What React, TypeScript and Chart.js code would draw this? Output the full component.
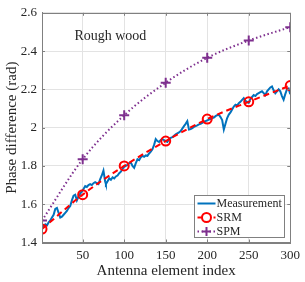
import React, { useEffect, useRef } from "react";
import { Chart, registerables } from "chart.js";

Chart.register(...registerables);

const measX = [1, 3, 5, 7, 9, 11, 13, 15, 17, 19, 21, 23, 25, 27, 29, 31, 33, 35, 37, 39, 41, 43, 45, 47, 49, 51, 53, 55, 57, 59, 61, 63, 65, 67, 69, 71, 73, 75, 77, 78, 80, 82, 84, 86, 88, 90, 92, 94, 96, 98, 100, 102, 104, 106, 108, 110, 112, 114, 116, 118, 120, 122, 124, 126, 128, 130, 132, 134, 136, 138, 140, 142, 144, 146, 148, 150, 152, 154, 156, 158, 160, 162, 164, 166, 168, 170, 172, 174, 176, 178, 180, 182, 184, 186, 188, 190, 192, 194, 196, 198, 200, 202, 204, 206, 208, 210, 212, 214, 216, 218, 220, 222, 224, 226, 228, 230, 232, 234, 236, 238, 240, 242, 244, 246, 248, 250, 252, 254, 256, 258, 260, 262, 264, 266, 268, 270, 272, 274, 276, 278, 280, 282, 284, 286, 288, 290, 292, 294, 296, 298, 300];
const measY = [1.49, 1.485, 1.495, 1.49, 1.505, 1.515, 1.53, 1.545, 1.575, 1.58, 1.555, 1.53, 1.535, 1.545, 1.555, 1.565, 1.58, 1.59, 1.62, 1.645, 1.65, 1.62, 1.64, 1.655, 1.665, 1.68, 1.695, 1.69, 1.7, 1.705, 1.7, 1.71, 1.715, 1.71, 1.705, 1.73, 1.75, 1.775, 1.72, 1.705, 1.72, 1.735, 1.728, 1.74, 1.735, 1.745, 1.75, 1.762, 1.77, 1.785, 1.795, 1.8, 1.805, 1.815, 1.818, 1.8, 1.79, 1.815, 1.835, 1.83, 1.845, 1.853, 1.848, 1.855, 1.853, 1.865, 1.875, 1.887, 1.91, 1.94, 1.93, 1.925, 1.935, 1.94, 1.935, 1.93, 1.925, 1.94, 1.947, 1.95, 1.958, 1.965, 1.97, 1.975, 1.982, 1.995, 2.008, 2.02, 2.034, 1.99, 1.992, 1.997, 2.004, 2.008, 2.012, 2.017, 2.02, 2.025, 2.03, 2.034, 2.038, 2.042, 2.045, 2.05, 2.052, 2.06, 2.065, 2.068, 2.055, 2.04, 1.99, 2.02, 2.05, 2.068, 2.08, 2.095, 2.11, 2.12, 2.115, 2.128, 2.135, 2.145, 2.154, 2.14, 2.135, 2.13, 2.15, 2.16, 2.17, 2.165, 2.175, 2.18, 2.185, 2.19, 2.18, 2.17, 2.19, 2.2, 2.21, 2.215, 2.195, 2.18, 2.19, 2.2, 2.19, 2.165, 2.146, 2.175, 2.2, 2.205, 2.175];

const modelX = [1, 50, 100, 150, 200, 250, 300];
const srmY = [1.47, 1.65, 1.8, 1.93, 2.045, 2.135, 2.22];
const spmY = [1.515, 1.835, 2.065, 2.235, 2.365, 2.455, 2.525];

const xTicks = [50, 100, 150, 200, 250, 300];
const yTicks = [1.4, 1.6, 1.8, 2.0, 2.2, 2.4, 2.6];

const seriesNames = ["Measurement", "SRM", "SPM"];
const annotation = "Rough wood";

const BLUE = "#0072BD";
const RED = "#FF0000";
const PURPLE = "#7E2F8E";
const TEXT = "#262626";
const AXIS = "#808080";
const GRID = "#e3e3e3";
const FONT = "'Liberation Serif', 'DejaVu Serif', serif";

const overlayPlugin = {
  id: "overlay",
  afterDraw(chart: any) {
    const { ctx, chartArea: a, scales } = chart;
    const xs = scales.x;
    const ys = scales.y;
    ctx.save();
    ctx.strokeStyle = AXIS;
    ctx.lineWidth = 1;
    ctx.strokeRect(Math.round(a.left) + 0.5, Math.round(a.top) + 0.5, Math.round(a.right - a.left), Math.round(a.bottom - a.top));
    ctx.beginPath();
    xTicks.forEach((v) => {
      const px = Math.round(xs.getPixelForValue(v)) + 0.5;
      ctx.moveTo(px, a.bottom);
      ctx.lineTo(px, a.bottom - 3);
      ctx.moveTo(px, a.top);
      ctx.lineTo(px, a.top + 3);
    });
    yTicks.forEach((v) => {
      const py = Math.round(ys.getPixelForValue(v)) + 0.5;
      ctx.moveTo(a.left, py);
      ctx.lineTo(a.left + 3, py);
      ctx.moveTo(a.right, py);
      ctx.lineTo(a.right - 3, py);
    });
    ctx.stroke();

    ctx.fillStyle = TEXT;
    ctx.font = `14px ${FONT}`;
    ctx.textAlign = "left";
    ctx.textBaseline = "middle";
    ctx.fillText(annotation, xs.getPixelForValue(40), ys.getPixelForValue(2.478));

    const bw = 90;
    const bh = 42;
    const bx = Math.round(a.right - 6 - bw) + 0.5;
    const by = Math.round(a.bottom - 5.5 - bh) + 0.5;
    ctx.fillStyle = "#ffffff";
    ctx.fillRect(bx, by, bw, bh);
    ctx.strokeStyle = AXIS;
    ctx.lineWidth = 1;
    ctx.strokeRect(bx, by, bw, bh);
    const colors = [BLUE, RED, PURPLE];
    const dashes = [[], [5, 3], [1.5, 2.5]];
    ctx.font = `12px ${FONT}`;
    seriesNames.forEach((name, i) => {
      const cy = by + 8 + i * 14;
      const x0 = bx + 3;
      const x1 = bx + 21;
      ctx.strokeStyle = colors[i];
      ctx.lineWidth = 2;
      ctx.setLineDash(dashes[i]);
      ctx.beginPath();
      ctx.moveTo(x0, cy);
      ctx.lineTo(x1, cy);
      ctx.stroke();
      ctx.setLineDash([]);
      const mx = (x0 + x1) / 2;
      if (i === 1) {
        ctx.beginPath();
        ctx.arc(mx, cy, 4.5, 0, Math.PI * 2);
        ctx.fillStyle = "#ffffff";
        ctx.fill();
        ctx.stroke();
      } else if (i === 2) {
        ctx.beginPath();
        ctx.moveTo(mx - 4.5, cy);
        ctx.lineTo(mx + 4.5, cy);
        ctx.moveTo(mx, cy - 4.5);
        ctx.lineTo(mx, cy + 4.5);
        ctx.stroke();
      }
      ctx.fillStyle = TEXT;
      ctx.textAlign = "left";
      ctx.textBaseline = "middle";
      ctx.fillText(name, x1 + 1, cy + 0.5);
    });
    ctx.restore();
  },
};

export default function App() {
  const ref = useRef<HTMLCanvasElement>(null);
  useEffect(() => {
    document.body.style.margin = "0";
    const canvas = ref.current!;
    const chart = new Chart(canvas, {
      type: "line",
      data: {
        datasets: [
          {
            label: seriesNames[0],
            data: measX.map((x, i) => ({ x, y: measY[i] })),
            borderColor: BLUE,
            borderWidth: 2,
            pointRadius: 0,
            tension: 0,
            order: 3,
          },
          {
            label: seriesNames[1],
            data: modelX.map((x, i) => ({ x, y: srmY[i] })),
            borderColor: RED,
            backgroundColor: "rgba(0,0,0,0)",
            borderWidth: 2,
            borderDash: [6, 4],
            pointRadius: 4.5,
            pointBorderWidth: 2,
            pointBorderColor: RED,
            pointBackgroundColor: "rgba(255,255,255,0)",
            cubicInterpolationMode: "monotone",
            order: 2,
          },
          {
            label: seriesNames[2],
            data: modelX.map((x, i) => ({ x, y: spmY[i] })),
            borderColor: PURPLE,
            borderWidth: 2,
            borderDash: [1.5, 2.5],
            pointStyle: "cross",
            pointRadius: 5,
            pointBorderWidth: 2,
            pointBorderColor: PURPLE,
            cubicInterpolationMode: "monotone",
            order: 1,
          },
        ],
      },
      options: {
        responsive: false,
        animation: false,
        layout: { padding: { top: 10.5, right: 13, left: 0, bottom: 0 } },
        plugins: { legend: { display: false }, tooltip: { enabled: false } },
        scales: {
          x: {
            type: "linear",
            min: 1,
            max: 300,
            afterBuildTicks: (s: any) => {
              s.ticks = xTicks.map((v) => ({ value: v }));
            },
            afterFit: (s: any) => {
              s.height = 39.5;
            },
            grid: { color: GRID, drawTicks: false },
            border: { color: AXIS },
            ticks: {
              color: TEXT,
              font: { family: FONT, size: 13 },
              padding: 5,
              maxRotation: 0,
              autoSkip: false,
            },
            title: {
              display: true,
              text: "Antenna element index",
              color: TEXT,
              font: { family: FONT, size: 15 },
              padding: { top: 0, bottom: 2 },
            },
          },
          y: {
            min: 1.4,
            max: 2.6,
            afterBuildTicks: (s: any) => {
              s.ticks = yTicks.map((v) => ({ value: v }));
            },
            afterFit: (s: any) => {
              s.width = 42;
            },
            grid: { color: GRID, drawTicks: false },
            border: { color: AXIS },
            ticks: {
              color: TEXT,
              font: { family: FONT, size: 13 },
              padding: 5,
              autoSkip: false,
              callback: (v: any) => String(Number(Number(v).toFixed(1))),
            },
            title: {
              display: true,
              text: "Phase difference (rad)",
              color: TEXT,
              font: { family: FONT, size: 15 },
              padding: { top: 3, bottom: 0 },
            },
          },
        },
      },
      plugins: [overlayPlugin],
    });
    return () => chart.destroy();
  }, []);
  return <canvas ref={ref} width={305} height={282} style={{ display: "block" }} />;
}
